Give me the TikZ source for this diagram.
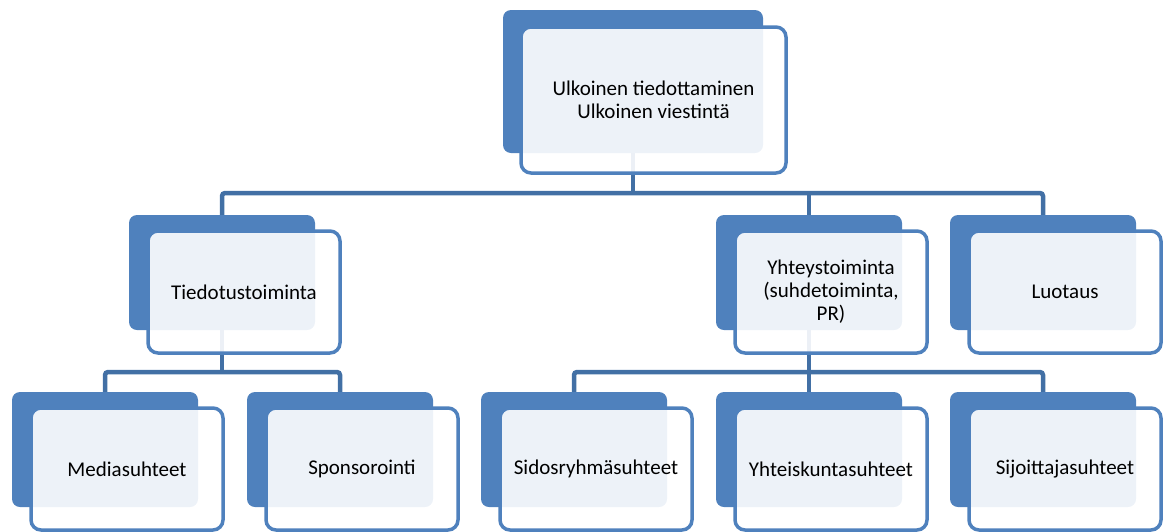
\documentclass[tikz,border=0pt]{standalone}
\usepackage{fontspec}
\setmainfont{Carlito}
\definecolor{acc}{HTML}{4F81BD}
\definecolor{conncol}{HTML}{4270A5}
\begin{document}
\begin{tikzpicture}[x=1pt,y=-1pt,
  back/.style={draw=none, fill=acc, rounded corners=8pt, inner sep=0pt,
    minimum width=186pt, minimum height=115pt},
  front/.style={draw=acc, line width=3.5pt, fill=white, fill opacity=0.9,
    text opacity=1, rounded corners=10pt, inner sep=0pt,
    minimum width=192pt, minimum height=122pt, align=center,
    font=\fontsize{21pt}{23pt}\selectfont},
  conn/.style={draw=conncol, line width=4.5pt, rounded corners=3pt}]
\useasboundingbox (0,0) rectangle (1168,531);

% back boxes
\node[back, minimum width=260pt, minimum height=143pt] (b0) at (633,81.5) {};
\node[back] (b1) at (222,272.5) {};
\node[back] (b2) at (809,272.5) {};
\node[back] (b3) at (1043,272.5) {};
\node[back] (c1) at (105,449.5) {};
\node[back] (c2) at (340,449.5) {};
\node[back] (c3) at (574,449.5) {};
\node[back] (c4) at (809,449.5) {};
\node[back] (c5) at (1043,449.5) {};

% connectors
\coordinate (bus0) at (633,193);
\coordinate (bus1) at (222,372);
\coordinate (bus2) at (809,372);
\draw[conn] (b0.south) -- (bus0);
\draw[conn] (b1.north) |- (bus0) -| (b3.north);
\draw[conn] (b2.north) -- (b2.north |- bus0);
\draw[conn] (b1.south) -- (bus1);
\draw[conn] (c1.north) |- (bus1) -| (c2.north);
\draw[conn] (b2.south) -- (bus2);
\draw[conn] (c3.north) |- (bus2) -| (c5.north);
\draw[conn] (c4.north) -- (c4.north |- bus2);

% front boxes
\node[front, minimum width=265pt, minimum height=146pt] (f0) at (653.5,100) {Ulkoinen tiedottaminen\\Ulkoinen viestintä};
\node[front] (f1) at (244,292) {Tiedotustoiminta};
\node[front] (f2) at (831,292) {Yhteystoiminta\\(suhdetoiminta,\\PR)};
\node[front] (f3) at (1065,292) {Luotaus};
\node[front] (g1) at (127,469) {Mediasuhteet};
\node[front] (g2) at (362,469) {Sponsorointi};
\node[front] (g3) at (596,469) {Sidosryhmäsuhteet};
\node[front] (g4) at (831,469) {Yhteiskuntasuhteet};
\node[front] (g5) at (1065,469) {Sijoittajasuhteet};
\end{tikzpicture}
\end{document}
